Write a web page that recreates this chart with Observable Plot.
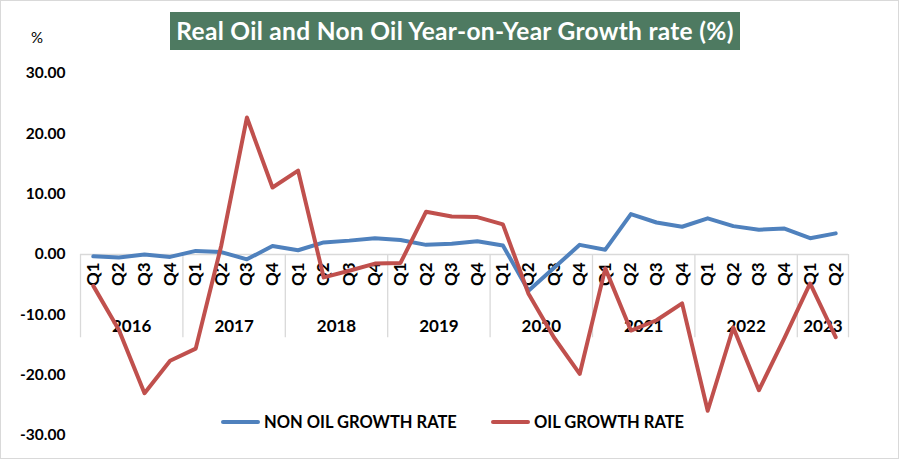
<!DOCTYPE html>
<html><head><meta charset="utf-8">
<script src="https://cdn.jsdelivr.net/npm/d3@7"></script>
<script src="https://cdn.jsdelivr.net/npm/@observablehq/plot@0.6"></script>
<style>
body{margin:0;background:#fff;font-family:Lato,"Open Sans",sans-serif;}
#wrap{position:relative;width:900px;height:467px;overflow:hidden;}
#frame{position:absolute;left:0;top:0;width:897px;height:457px;border:1px solid #d9d9d9;pointer-events:none;}
#title{position:absolute;left:170px;top:12px;width:570px;height:38px;background:#4e7a61;color:#fff;font-weight:bold;font-size:24.5px;letter-spacing:0.3px;line-height:38px;text-align:center;white-space:nowrap;}
#pct{position:absolute;left:31px;top:28px;font-size:15px;color:#000;}
.leg{position:absolute;top:412px;height:20px;display:flex;align-items:center;font-weight:bold;font-size:16.5px;color:#000;white-space:nowrap;}
.sw{display:inline-block;width:39px;height:4px;border-radius:2px;margin-right:4px;}
#chart{position:absolute;left:0;top:0;}
</style>
</head><body>
<div id="wrap">
<div id="chart"></div>
<div id="title">Real Oil and Non Oil Year-on-Year Growth rate (%)</div>
<div id="pct">%</div>
<div class="leg" style="left:221px"><span class="sw" style="background:#4f81bd"></span>NON OIL GROWTH RATE</div>
<div class="leg" style="left:491px"><span class="sw" style="background:#c0504d"></span>OIL GROWTH RATE</div>
<div id="frame"></div>
</div>
<script>
const years = ["2016","2017","2018","2019","2020","2021","2022","2023"];
const quarterCounts = [4,4,4,4,4,4,4,2];
const quarterNames = ["Q1","Q2","Q3","Q4"];
const yTicks = [-30,-20,-10,0,10,20,30];
const nonOil = [-0.3,-0.5,0.0,-0.4, 0.6,0.4,-0.8,1.4, 0.7,2.0,2.3,2.7, 2.4,1.6,1.8,2.2, 1.5,-6.0,-2.2,1.6, 0.8,6.7,5.3,4.6, 6.0,4.7,4.1,4.3, 2.7,3.5];
const oil = [-5.2,-12.5,-23.0,-17.6, -15.6,1.5,22.7,11.1, 13.9,-3.8,-2.7,-1.5, -1.4,7.1,6.3,6.2, 5.0,-6.5,-13.8,-19.8, -2.3,-12.6,-10.9,-8.1, -25.9,-12.1,-22.5,-13.8, -4.8,-13.7];

const rows = [];
years.forEach((y,i)=>{ for(let q=0;q<quarterCounts[i];q++){ rows.push({key:`${y} ${quarterNames[q]}`, year:y, q:quarterNames[q], qi:q}); } });
rows.forEach((r,i)=>{ r.nonOil = nonOil[i]; r.oil = oil[i]; });
const keys = rows.map(r=>r.key);

const W = 900, H = 467, mL = 80, mR = 52, mT = 73, mB = 32;
const step = (W - mL - mR) / keys.length;
const groupStarts = rows.filter(r=>r.qi===0);
const lastRow = [rows[rows.length-1]];
const yearLabels = years.map((y,i)=>{ const n = quarterCounts[i]; return rows.find(r=>r.year===y && r.qi===Math.floor((n-1)/2)); });
const sepBottom = -13.8, yearY = -11.9;
const font = "Lato, 'Open Sans', sans-serif";

const chart = Plot.plot({
  width: W, height: H,
  marginLeft: mL, marginRight: mR, marginTop: mT, marginBottom: mB,
  style: {fontFamily: font, background: "transparent", overflow: "visible"},
  x: {type: "point", domain: keys, padding: 0.5, round: false, axis: null},
  y: {domain: [-30, 30]},
  marks: [
    Plot.axisY({ticks: yTicks, tickFormat: d => d.toFixed(2), tickSize: 0, tickPadding: 15, fontSize: 15.5, fontWeight: "bold", label: null, fill: "#000"}),
    Plot.ruleY([0], {stroke: "#d9d9d9", strokeWidth: 1.3}),
    Plot.ruleX(groupStarts, {x: "key", y1: 0, y2: sepBottom, dx: -step/2, stroke: "#d9d9d9", strokeWidth: 1.3}),
    Plot.ruleX(lastRow, {x: "key", y1: 0, y2: sepBottom, dx: step/2, stroke: "#d9d9d9", strokeWidth: 1.3}),
    Plot.text(rows, {x: "key", y: 0, text: "q", rotate: -90, textAnchor: "end", lineAnchor: "middle", dy: 8, fontSize: 17, fontWeight: "bold", fill: "#000"}),
    Plot.text(yearLabels, {x: "key", y: yearY, text: "year", dx: step/2, fontSize: 17, fontWeight: "bold", fill: "#000"}),
    Plot.line(rows, {x: "key", y: "nonOil", stroke: "#4f81bd", strokeWidth: 4, strokeLinejoin: "round", strokeLinecap: "round"}),
    Plot.line(rows, {x: "key", y: "oil", stroke: "#c0504d", strokeWidth: 4, strokeLinejoin: "round", strokeLinecap: "round"})
  ]
});
document.getElementById("chart").appendChild(chart);
</script>
</body></html>
